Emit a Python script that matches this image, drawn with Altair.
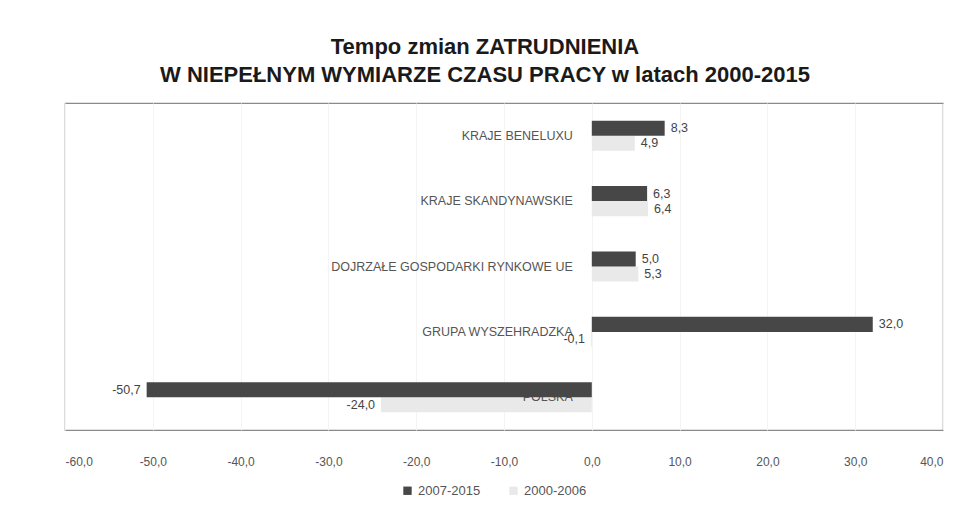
import altair as alt
import pandas as pd

categories = ["KRAJE BENELUXU", "KRAJE SKANDYNAWSKIE", "DOJRZAŁE GOSPODARKI RYNKOWE UE",
              "GRUPA WYSZEHRADZKA", "POLSKA"]
series = ["2007-2015", "2000-2006"]
values_2007_2015 = [8.3, 6.3, 5.0, 32.0, -50.7]
values_2000_2006 = [4.9, 6.4, 5.3, -0.1, -24.0]
x_ticks = [-60, -50, -40, -30, -20, -10, 0, 10, 20, 30, 40]

rows = []
for c, a, b in zip(categories, values_2007_2015, values_2000_2006):
    rows.append({"kraj": c, "okres": series[0], "v": a})
    rows.append({"kraj": c, "okres": series[1], "v": b})
df = pd.DataFrame(rows)
cat_df = pd.DataFrame({"kraj": categories})

FONT = "Liberation Sans"
FMT = "replace(replace(format({v}, '.1f'), '.', ','), '\u2212', '-')"

y_enc = alt.Y("kraj:N", sort=categories, axis=None,
              scale=alt.Scale(paddingInner=0.54, paddingOuter=0.27))
yoff = alt.YOffset("okres:N", sort=series)
x_enc = alt.X("v:Q", title=None,
              scale=alt.Scale(domain=[-60, 40], nice=False, zero=False),
              axis=alt.Axis(values=x_ticks, labelExpr=FMT.format(v="datum.value"),
                            domain=False, ticks=False, labelPadding=26, labelFontSize=12,
                            labelFont=FONT, labelColor="#555555",
                            grid=True, gridColor="#f4f4f4", gridWidth=1))
color_enc = alt.Color("okres:N", sort=series,
                      scale=alt.Scale(domain=series, range=["#474747", "#e9e9e9"]),
                      legend=alt.Legend(title=None, orient="none", direction="horizontal",
                                        legendX=336, legendY=381, symbolType="square",
                                        symbolSize=70, labelFontSize=13, labelFont=FONT,
                                        labelColor="#555555", columnPadding=26,
                                        symbolStrokeWidth=0))

base = alt.Chart(df)

light_bars = base.transform_filter(alt.datum.okres == series[1]).mark_bar().encode(
    x=x_enc, x2=alt.datum(0), y=y_enc, yOffset=yoff, color=color_enc)

cat_text = alt.Chart(cat_df).mark_text(align="right", baseline="middle", dx=-19,
                                       fontSize=12.5, font=FONT, color="#555555").encode(
    x=alt.datum(0), y=y_enc, text="kraj:N")

dark_bars = base.transform_filter(alt.datum.okres == series[0]).mark_bar().encode(
    x=x_enc, x2=alt.datum(0), y=y_enc, yOffset=yoff, color=color_enc)

lab = base.transform_calculate(t=FMT.format(v="datum.v"))
pos_labels = lab.transform_filter(alt.datum.v >= 0).mark_text(
    align="left", baseline="middle", dx=6, fontSize=12.5, font=FONT, color="#444444").encode(
    x="v:Q", y=y_enc, yOffset=yoff, text="t:N")
neg_labels = lab.transform_filter(alt.datum.v < 0).mark_text(
    align="right", baseline="middle", dx=-6, fontSize=12.5, font=FONT, color="#444444").encode(
    x="v:Q", y=y_enc, yOffset=yoff, text="t:N")

chart = alt.layer(light_bars, cat_text, dark_bars, pos_labels, neg_labels).properties(
    width=878, height=327,
    title=alt.TitleParams(["Tempo zmian ZATRUDNIENIA",
                           "W NIEPEŁNYM WYMIARZE CZASU PRACY w latach 2000-2015"],
                          font=FONT, fontSize=22, fontWeight="bold", color="#1a1a1a",
                          anchor="middle", dx=-19, offset=16, lineHeight=28),
    autosize=alt.AutoSizeParams(type="none"),
    padding={"left": 57, "top": 95, "right": 26, "bottom": 78},
).configure_view(stroke="#8a8a8a", strokeWidth=1.2)

chart.save("out.html", embed_options={"renderer": "svg", "actions": False})
